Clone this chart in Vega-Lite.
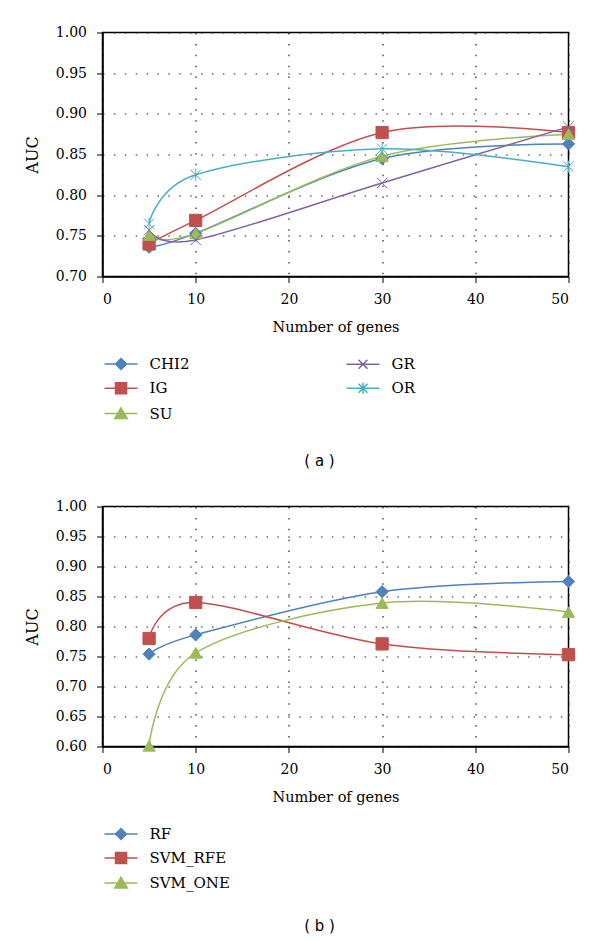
{
  "$schema": "https://vega.github.io/schema/vega-lite/v6.json",
  "background": "white",
  "padding": {"left": 23.5, "top": 24.5, "right": 5, "bottom": 5},
  "spacing": 29,
  "config": {
    "font": "DejaVu Serif",
    "view": {"stroke": "#000", "strokeWidth": 1.5},
    "axis": {
      "domainColor": "#000", "domainWidth": 1.5,
      "tickColor": "#000", "tickWidth": 1, "tickSize": 6,
      "labelFont": "DejaVu Serif", "labelFontSize": 14, "labelColor": "#000",
      "titleFont": "DejaVu Serif", "titleFontWeight": "normal", "titleColor": "#000",
      "gridColor": "#222", "gridWidth": 1.2, "gridDash": [1.5, 9.4]
    },
    "axisX": {"labelPadding": 10, "titlePadding": 14, "titleFontSize": 14.5},
    "axisY": {"labelPadding": 10, "titlePadding": 15, "titleFontSize": 16}
  },
  "datasets": {
    "a": [
      {"series": "CHI2", "genes": 5, "auc": 0.736},
      {"series": "CHI2", "genes": 10, "auc": 0.753},
      {"series": "CHI2", "genes": 30, "auc": 0.845},
      {"series": "CHI2", "genes": 50, "auc": 0.863},
      {"series": "IG", "genes": 5, "auc": 0.740},
      {"series": "IG", "genes": 10, "auc": 0.769},
      {"series": "IG", "genes": 30, "auc": 0.877},
      {"series": "IG", "genes": 50, "auc": 0.877},
      {"series": "SU", "genes": 5, "auc": 0.751},
      {"series": "SU", "genes": 10, "auc": 0.753},
      {"series": "SU", "genes": 30, "auc": 0.848},
      {"series": "SU", "genes": 50, "auc": 0.875},
      {"series": "GR", "genes": 5, "auc": 0.757},
      {"series": "GR", "genes": 10, "auc": 0.745},
      {"series": "GR", "genes": 30, "auc": 0.815},
      {"series": "GR", "genes": 50, "auc": 0.884},
      {"series": "OR", "genes": 5, "auc": 0.765},
      {"series": "OR", "genes": 10, "auc": 0.825},
      {"series": "OR", "genes": 30, "auc": 0.857},
      {"series": "OR", "genes": 50, "auc": 0.835}
    ],
    "b": [
      {"series": "RF", "genes": 5, "auc": 0.754},
      {"series": "RF", "genes": 10, "auc": 0.786},
      {"series": "RF", "genes": 30, "auc": 0.858},
      {"series": "RF", "genes": 50, "auc": 0.875},
      {"series": "SVM_RFE", "genes": 5, "auc": 0.780},
      {"series": "SVM_RFE", "genes": 10, "auc": 0.840},
      {"series": "SVM_RFE", "genes": 30, "auc": 0.771},
      {"series": "SVM_RFE", "genes": 50, "auc": 0.753},
      {"series": "SVM_ONE", "genes": 5, "auc": 0.601},
      {"series": "SVM_ONE", "genes": 10, "auc": 0.756},
      {"series": "SVM_ONE", "genes": 30, "auc": 0.839},
      {"series": "SVM_ONE", "genes": 50, "auc": 0.824}
    ]
  },
  "resolve": {
    "scale": {"color": "independent", "shape": "independent", "stroke": "independent"},
    "legend": {"color": "independent", "shape": "independent", "stroke": "independent"}
  },
  "vconcat": [
    {
      "width": 466,
      "height": 244,
      "data": {"name": "a"},
      "title": {"text": "( a )", "orient": "bottom", "anchor": "middle", "frame": "group", "dx": -16, "offset": 31, "font": "DejaVu Sans", "fontSize": 15, "fontWeight": "normal", "color": "#000"},
      "encoding": {
        "x": {"field": "genes", "type": "quantitative", "scale": {"domain": [0, 50], "nice": false}, "axis": {"values": [0, 10, 20, 30, 40, 50], "title": "Number of genes", "grid": true}},
        "y": {"field": "auc", "type": "quantitative", "scale": {"domain": [0.7, 1.0], "zero": false, "nice": false}, "axis": {"values": [0.7, 0.75, 0.8, 0.85, 0.9, 0.95, 1.0], "format": ".2f", "title": "AUC", "grid": true}}
      },
      "resolve": {
        "scale": {"color": "independent", "shape": "independent", "stroke": "independent"},
        "legend": {"color": "independent", "shape": "independent", "stroke": "independent"}
      },
      "layer": [
        {
          "mark": {"type": "line", "interpolate": "cardinal", "tension": 0, "strokeWidth": 1.5},
          "encoding": {
            "color": {"field": "series", "type": "nominal", "scale": {"domain": ["CHI2", "IG", "SU", "GR", "OR"], "range": ["#4F81BD", "#C0504D", "#9BBB59", "#8064A2", "#4BACC6"]}, "legend": null}
          }
        },
        {
          "mark": {"type": "point", "filled": true, "size": 150, "strokeWidth": 1, "opacity": 1},
          "encoding": {
            "color": {"field": "series", "type": "nominal", "scale": {"domain": ["CHI2", "IG", "SU", "GR", "OR"], "range": ["#4F81BD", "#C0504D", "#9BBB59", "#8064A2", "#4BACC6"]}, "legend": null},
            "stroke": {"field": "series", "type": "nominal", "scale": {"domain": ["CHI2", "IG", "SU", "GR", "OR"], "range": ["#4F81BD", "#C0504D", "#9BBB59", "#8064A2", "#4BACC6"]}, "legend": null},
            "shape": {"field": "series", "type": "nominal", "scale": {"domain": ["CHI2", "IG", "SU", "GR", "OR"], "range": ["diamond", "square", "triangle-up", "M-0.85,-0.85L0.85,0.85M-0.85,0.85L0.85,-0.85", "M-0.85,-0.85L0.85,0.85M-0.85,0.85L0.85,-0.85M0,-1L0,1"]}, "legend": null}
          }
        },
        {
          "mark": {"type": "point", "filled": true, "size": 100, "strokeWidth": 1.5, "opacity": 0},
          "encoding": {
            "color": {"field": "series", "type": "nominal", "scale": {"domain": ["CHI2", "IG", "SU", "GR", "OR"], "range": ["#4F81BD", "#C0504D", "#9BBB59", "#8064A2", "#4BACC6"]}},
            "stroke": {"field": "series", "type": "nominal", "scale": {"domain": ["CHI2", "IG", "SU", "GR", "OR"], "range": ["#4F81BD", "#C0504D", "#9BBB59", "#8064A2", "#4BACC6"]}},
            "shape": {
              "field": "series", "type": "nominal",
              "scale": {"domain": ["CHI2", "IG", "SU", "GR", "OR"], "range": [
                "M-3.3,0L3.3,0M0,-1.1L1.1,0L0,1.1L-1.1,0Z",
                "M-3.3,0L3.3,0M-1.1,-1.1L1.1,-1.1L1.1,1.1L-1.1,1.1Z",
                "M-3.3,0L3.3,0M0,-1.15L1.25,1.0L-1.25,1.0Z",
                "M-3.3,0L3.3,0M-0.9,-0.9L0.9,0.9M-0.9,0.9L0.9,-0.9",
                "M-3.3,0L3.3,0M-0.9,-0.9L0.9,0.9M-0.9,0.9L0.9,-0.9M0,-1.1L0,1.1"
              ]},
              "legend": {
                "orient": "none", "legendX": 11, "legendY": 324, "title": null, "padding": 0,
                "columns": 2, "columnPadding": 153, "rowPadding": 7.3,
                "symbolSize": 100, "symbolStrokeWidth": 1.5, "symbolOpacity": 1,
                "labelOffset": 21, "labelFont": "DejaVu Serif", "labelFontSize": 15, "labelColor": "#000"
              }
            }
          }
        }
      ]
    },
    {
      "width": 466,
      "height": 240,
      "data": {"name": "b"},
      "title": {"text": "( b )", "orient": "bottom", "anchor": "middle", "frame": "group", "dx": -16, "offset": 27, "font": "DejaVu Sans", "fontSize": 15, "fontWeight": "normal", "color": "#000"},
      "encoding": {
        "x": {"field": "genes", "type": "quantitative", "scale": {"domain": [0, 50], "nice": false}, "axis": {"values": [0, 10, 20, 30, 40, 50], "title": "Number of genes", "grid": true}},
        "y": {"field": "auc", "type": "quantitative", "scale": {"domain": [0.6, 1.0], "zero": false, "nice": false}, "axis": {"values": [0.6, 0.65, 0.7, 0.75, 0.8, 0.85, 0.9, 0.95, 1.0], "format": ".2f", "title": "AUC", "grid": true}}
      },
      "resolve": {
        "scale": {"color": "independent", "shape": "independent", "stroke": "independent"},
        "legend": {"color": "independent", "shape": "independent", "stroke": "independent"}
      },
      "layer": [
        {
          "mark": {"type": "line", "interpolate": "cardinal", "tension": 0, "strokeWidth": 1.5},
          "encoding": {
            "color": {"field": "series", "type": "nominal", "scale": {"domain": ["RF", "SVM_RFE", "SVM_ONE"], "range": ["#4F81BD", "#C0504D", "#9BBB59"]}, "legend": null}
          }
        },
        {
          "mark": {"type": "point", "filled": true, "size": 150, "strokeWidth": 1, "opacity": 1},
          "encoding": {
            "color": {"field": "series", "type": "nominal", "scale": {"domain": ["RF", "SVM_RFE", "SVM_ONE"], "range": ["#4F81BD", "#C0504D", "#9BBB59"]}, "legend": null},
            "stroke": {"field": "series", "type": "nominal", "scale": {"domain": ["RF", "SVM_RFE", "SVM_ONE"], "range": ["#4F81BD", "#C0504D", "#9BBB59"]}, "legend": null},
            "shape": {"field": "series", "type": "nominal", "scale": {"domain": ["RF", "SVM_RFE", "SVM_ONE"], "range": ["diamond", "square", "triangle-up"]}, "legend": null}
          }
        },
        {
          "mark": {"type": "point", "filled": true, "size": 100, "strokeWidth": 1.5, "opacity": 0},
          "encoding": {
            "color": {"field": "series", "type": "nominal", "scale": {"domain": ["RF", "SVM_RFE", "SVM_ONE"], "range": ["#4F81BD", "#C0504D", "#9BBB59"]}},
            "stroke": {"field": "series", "type": "nominal", "scale": {"domain": ["RF", "SVM_RFE", "SVM_ONE"], "range": ["#4F81BD", "#C0504D", "#9BBB59"]}},
            "shape": {
              "field": "series", "type": "nominal",
              "scale": {"domain": ["RF", "SVM_RFE", "SVM_ONE"], "range": [
                "M-3.3,0L3.3,0M0,-1.1L1.1,0L0,1.1L-1.1,0Z",
                "M-3.3,0L3.3,0M-1.1,-1.1L1.1,-1.1L1.1,1.1L-1.1,1.1Z",
                "M-3.3,0L3.3,0M0,-1.15L1.25,1.0L-1.25,1.0Z"
              ]},
              "legend": {
                "orient": "none", "legendX": 11, "legendY": 320, "title": null, "padding": 0,
                "columns": 1, "rowPadding": 7,
                "symbolSize": 100, "symbolStrokeWidth": 1.5, "symbolOpacity": 1,
                "labelOffset": 21, "labelFont": "DejaVu Serif", "labelFontSize": 15, "labelColor": "#000"
              }
            }
          }
        }
      ]
    }
  ]
}
